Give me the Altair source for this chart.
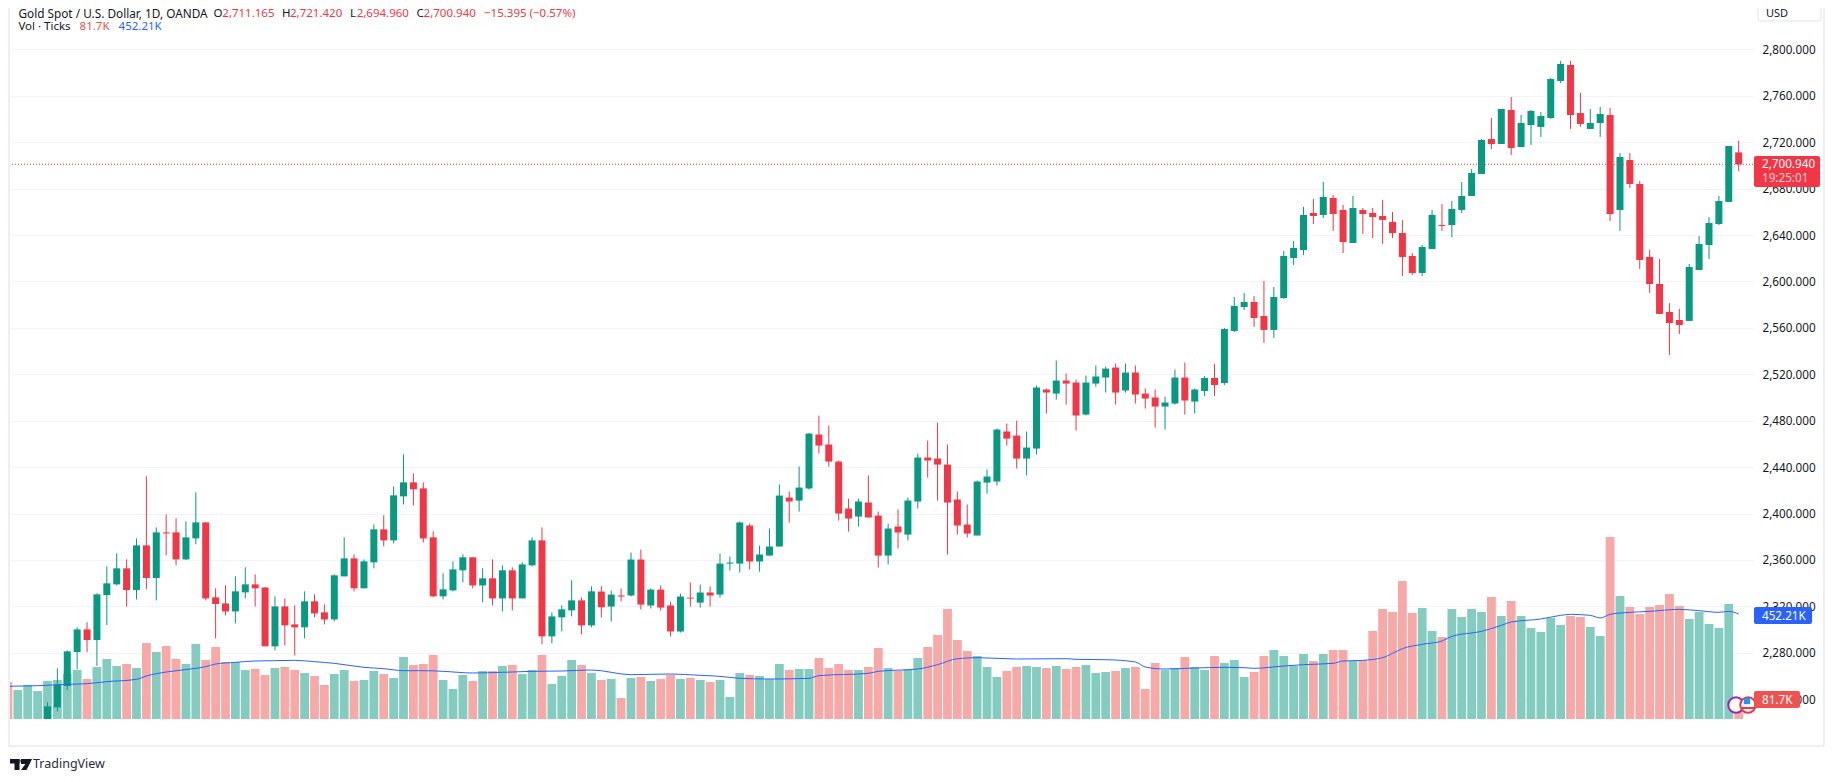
import altair as alt
import pandas as pd

FONT = "Noto Sans"
UP = "#089981"
DOWN = "#F23645"
VOL_UP = "#84CCC0"
VOL_DOWN = "#F7A9A7"
BLUE = "#2962FF"
GRID = "#F0F3FA"
INK = "#131722"

first_index = -1
opens = [2214.0,
2233.0,2251.4,2280.7,2300.2,2291.0,2329.8,2339.0,2352.8,2334.1,2372.6,
2344.5,2383.8,2383.8,2360.5,2378.6,2392.4,2327.8,2322.6,2315.7,2332.1,
2339.0,2336.4,2285.6,2320.0,2304.5,2302.0,2324.4,2314.9,2308.8,2345.9,
2361.4,2335.6,2358.0,2386.4,2376.9,2414.8,2426.9,2421.7,2379.5,2328.7,
2333.8,2351.1,2362.3,2338.1,2344.2,2326.9,2351.1,2326.9,2355.4,2376.9,
2294.2,2310.6,2316.6,2325.2,2303.7,2332.8,2319.9,2329.4,2329.4,2360.4,
2320.8,2334.5,2320.8,2298.4,2327.6,2323.3,2332.0,2330.2,2356.9,2356.9,
2389.7,2358.7,2363.8,2371.6,2413.8,2411.2,2421.6,2468.1,2459.5,2444.8,
2404.3,2397.4,2409.5,2398.3,2363.8,2388.8,2381.9,2410.4,2448.3,2447.4,
2442.2,2412.1,2390.5,2381.1,2426.7,2427.6,2470.7,2467.2,2447.4,2456.0,
2506.9,2503.4,2514.6,2512.9,2485.3,2512.0,2517.2,2525.8,2506.0,2521.5,
2503.4,2500.0,2492.2,2494.8,2517.2,2496.5,2505.6,2516.8,2512.5,2557.3,
2578.0,2582.3,2570.2,2558.2,2585.7,2620.2,2627.1,2659.0,2657.3,2671.9,
2661.6,2633.1,2661.6,2659.0,2656.4,2651.2,2641.7,2621.9,2607.3,2628.0,
2648.6,2648.6,2661.6,2673.6,2692.6,2722.7,2718.4,2747.7,2715.8,2734.8,
2733.1,2740.8,2772.7,2786.5,2745.1,2731.4,2736.5,2743.4,2661.6,2704.6,
2684.0,2621.1,2597.8,2573.7,2566.8,2566.0,2609.9,2631.4,2649.5,2668.5,2711.165]
highs = [2237.3,
2266.6,2282.1,2302.0,2306.3,2331.3,2354.5,2365.7,2360.5,2378.6,2432.1,
2388.1,2399.3,2395.9,2393.3,2418.3,2392.8,2335.6,2338.1,2345.9,2353.7,
2347.6,2336.7,2328.7,2326.9,2320.9,2333.0,2330.4,2321.8,2347.6,2379.5,
2364.9,2360.5,2390.7,2398.5,2423.4,2451.0,2434.6,2426.9,2384.7,2348.5,
2358.8,2364.9,2362.3,2352.8,2360.5,2355.4,2353.7,2358.0,2379.5,2388.1,
2314.9,2320.9,2342.5,2327.8,2337.3,2337.4,2333.7,2335.4,2366.4,2369.0,
2335.4,2338.0,2324.2,2331.1,2340.6,2338.8,2337.1,2365.6,2363.0,2393.1,
2391.4,2372.4,2387.1,2425.0,2419.0,2440.5,2469.5,2484.5,2475.8,2445.7,
2412.9,2412.9,2432.8,2401.7,2391.4,2403.5,2413.8,2451.7,2462.9,2478.4,
2459.5,2419.0,2407.8,2428.5,2437.9,2473.3,2477.6,2480.1,2470.7,2510.3,
2507.7,2531.8,2520.6,2515.5,2518.9,2527.5,2526.7,2529.3,2529.3,2527.5,
2507.7,2506.9,2500.8,2524.1,2530.1,2507.7,2518.5,2528.9,2559.9,2586.6,
2590.1,2587.5,2600.4,2595.2,2626.2,2634.9,2664.2,2671.0,2685.7,2674.5,
2665.9,2673.6,2663.3,2663.3,2670.2,2659.8,2653.0,2624.5,2631.4,2661.6,
2666.7,2669.3,2685.7,2696.9,2722.7,2740.8,2748.6,2758.9,2743.4,2747.7,
2746.0,2775.3,2790.0,2790.0,2762.4,2748.6,2750.3,2749.4,2710.7,2710.7,
2686.6,2627.1,2619.3,2581.4,2576.3,2615.0,2639.2,2655.5,2673.6,2716.7,2721.42]
lows = [2210.0,
2229.6,2248.0,2265.8,2280.7,2268.6,2304.0,2338.1,2320.0,2326.1,2334.7,
2325.2,2364.0,2355.4,2360.0,2373.5,2325.2,2292.5,2312.3,2305.4,2326.9,
2320.0,2285.6,2282.1,2286.4,2277.8,2292.5,2310.6,2304.5,2307.1,2345.9,
2333.0,2335.6,2352.8,2371.7,2374.3,2407.9,2407.1,2375.2,2327.8,2326.1,
2333.0,2340.7,2335.6,2323.5,2320.9,2315.7,2316.6,2326.9,2354.5,2287.3,
2288.2,2298.5,2311.4,2295.9,2302.0,2310.4,2307.0,2324.2,2328.5,2317.3,
2318.2,2316.4,2294.0,2297.5,2319.9,2319.0,2319.9,2327.6,2350.9,2349.2,
2351.8,2350.0,2363.8,2371.6,2392.3,2401.7,2420.7,2451.7,2440.5,2394.0,
2384.5,2388.8,2396.6,2353.5,2356.1,2369.9,2376.8,2404.3,2431.0,2411.2,
2364.7,2381.9,2379.3,2381.1,2417.2,2424.1,2458.6,2438.8,2432.8,2450.9,
2486.2,2498.2,2493.9,2471.5,2484.5,2509.4,2504.3,2493.9,2504.3,2494.8,
2490.5,2474.1,2472.4,2493.9,2485.3,2486.2,2501.3,2501.3,2510.8,2556.4,
2575.4,2560.8,2547.0,2551.3,2584.9,2614.2,2622.8,2649.5,2654.7,2643.5,
2624.5,2633.1,2640.9,2637.4,2632.3,2637.4,2604.7,2605.6,2604.7,2628.0,
2643.5,2638.3,2659.0,2673.6,2692.6,2714.1,2718.4,2709.0,2715.8,2717.6,
2724.5,2740.0,2771.0,2731.4,2733.1,2731.4,2724.5,2652.1,2643.5,2680.5,
2610.7,2590.1,2572.0,2536.6,2554.7,2566.0,2609.9,2619.3,2648.6,2668.5,2694.96]
closes = [2233.9,
2252.3,2281.3,2300.2,2291.0,2330.4,2339.9,2352.8,2334.1,2372.6,2344.5,
2383.8,2382.9,2360.5,2379.5,2392.4,2326.9,2322.1,2315.7,2333.0,2339.0,
2335.6,2285.6,2320.0,2303.7,2302.0,2324.4,2314.0,2308.8,2346.8,2361.4,
2335.6,2358.8,2386.4,2376.9,2415.7,2426.9,2420.9,2378.6,2328.7,2334.7,
2351.9,2362.3,2338.1,2344.2,2326.9,2351.1,2326.9,2356.2,2376.9,2294.2,
2311.4,2317.5,2325.2,2303.7,2333.0,2319.3,2330.2,2328.5,2360.4,2321.6,
2334.5,2319.0,2298.4,2328.5,2326.8,2332.0,2329.4,2356.9,2357.8,2392.3,
2358.7,2364.7,2371.6,2415.5,2410.4,2422.4,2468.9,2458.6,2444.8,2400.0,
2395.7,2410.4,2396.6,2363.8,2387.1,2383.7,2411.2,2448.3,2445.7,2442.2,
2409.5,2389.7,2382.8,2427.6,2431.9,2472.4,2464.6,2447.4,2456.9,2508.6,
2504.3,2514.6,2512.0,2484.5,2512.9,2518.1,2524.9,2504.3,2521.5,2502.6,
2499.1,2492.2,2495.7,2517.2,2497.4,2506.9,2516.8,2510.8,2559.0,2578.9,
2582.3,2568.5,2558.2,2586.6,2621.9,2628.8,2657.3,2656.4,2672.8,2658.1,
2634.0,2663.3,2658.1,2655.5,2653.0,2641.7,2621.1,2607.3,2629.7,2657.3,
2647.8,2662.4,2673.6,2693.4,2721.9,2718.4,2748.6,2715.0,2736.5,2746.9,
2742.5,2774.4,2787.4,2743.4,2735.7,2736.5,2744.3,2658.1,2707.2,2684.0,
2618.5,2597.8,2572.0,2564.2,2562.5,2612.5,2632.3,2650.4,2669.3,2716.7,2700.94]

volumes = [159.3,124.9,146.4,120.6,163.6,
167.9,193.8,211.0,172.2,223.9,258.4,228.2,236.8,219.6,327.3,
288.5,314.4,258.4,236.8,323.0,254.1,310.0,245.5,245.5,211.0,
215.3,189.5,219.6,223.9,211.0,198.1,185.2,146.4,193.8,211.0,
163.6,167.9,206.7,193.8,176.6,267.0,232.5,236.8,275.6,167.9,
129.2,189.5,163.6,206.7,206.7,228.2,232.5,193.8,211.0,275.6,
150.7,185.2,254.1,232.5,198.1,167.9,172.2,90.4,176.6,180.9,
163.6,172.2,189.5,172.2,176.6,167.9,159.3,167.9,94.7,198.1,
189.5,185.2,172.2,236.8,211.0,215.3,215.3,262.7,219.6,236.8,
211.0,211.0,223.9,305.7,219.6,206.7,215.3,262.7,310.0,361.7,
473.7,340.2,292.8,271.3,223.9,180.9,206.7,223.9,228.2,223.9,
219.6,228.2,215.3,223.9,232.5,198.1,202.4,206.7,219.6,223.9,
129.2,241.1,211.0,219.6,267.0,223.9,211.0,271.3,241.1,254.1,
180.9,202.4,271.3,297.1,271.3,228.2,279.9,249.8,279.9,297.1,
297.1,249.8,254.1,378.9,473.7,460.8,594.3,456.5,478.0,378.9,
353.1,473.7,439.2,473.7,460.8,525.4,443.5,508.1,443.5,391.9,
374.6,434.9,404.8,443.5,439.2,396.2,357.4,783.7,529.7,482.3,
452.2,482.3,490.9,538.3,486.6,430.6,460.8,409.1,391.9,495.2,81.7]
early_volume_up = [False, True, True, True]

ma_index = [-5,-2,1,3,5,8,9,11,14,15,16,18,20,22,24,26,28,31,33,35,37,39,42,45,48,51,54,
58,62,65,67,69,72,76,77,82,83,87,89,91,93,97,102,103,106,109,110,112,115,
118,120,121,124,126,129,130,132,134,135,136,138,140,141,144,146,147,150,152,153,155,156,157,159,161,164,166,168,169,170]
ma_values = [140.7,143.5,149.3,152.2,160.8,170.8,185.2,202.4,218.2,225.4,236.8,244.0,249.8,251.2,252.6,246.9,239.7,222.5,216.7,208.1,208.1,205.3,198.1,201.0,205.3,206.7,211.0,
190.9,193.8,188.0,183.7,175.1,172.2,175.1,186.6,196.7,205.3,215.3,234.0,259.8,264.1,258.4,259.8,256.9,255.5,245.5,223.9,215.3,219.6,
222.5,221.1,218.2,228.2,234.0,239.7,249.8,252.6,264.1,282.8,302.9,321.5,335.9,356.0,377.5,403.3,417.7,430.6,446.4,450.7,446.4,434.9,450.7,459.3,463.6,472.2,466.5,459.3,463.6,452.21]

tick_index = [0,10,22,35,45,55,65,75,88,100,110,120,131,140,154,165]
tick_labels = ["Apr","15","May","20","Jun","17","Jul","15","Aug","19","Sep","16","Oct","14","Nov","18"]
price_ticks = list(range(2240, 2801, 40))

candles = pd.DataFrame({
    "i": list(range(first_index, first_index + len(opens))),
    "open": opens, "high": highs, "low": lows, "close": closes,
})
candles["dir"] = ["up" if c >= o else "down" for o, c in zip(opens, closes)]
volume_dirs = ["up" if u else "down" for u in early_volume_up] + list(candles["dir"])
vol = pd.DataFrame({"i": list(range(-5, -5 + len(volumes))), "v": volumes, "dir": volume_dirs})
ma = pd.DataFrame({"i": ma_index, "v": ma_values})

X_DOMAIN = [-4.79, 171.45]
Y_DOMAIN = [2223.0, 2835.6]
V_DOMAIN = [0, 3062]

xs = alt.Scale(domain=X_DOMAIN, nice=False, zero=False, padding=0)
ys = alt.Scale(domain=Y_DOMAIN, nice=False, zero=False, padding=0)
vs = alt.Scale(domain=V_DOMAIN, nice=False, zero=False, padding=0)
dir_colors = alt.Scale(domain=["up", "down"], range=[UP, DOWN])
vol_colors = alt.Scale(domain=["up", "down"], range=[VOL_UP, VOL_DOWN])

x_axis = alt.Axis(
    values=tick_index,
    labelExpr="{" + ",".join(f"'{k}':'{v}'" for k, v in zip(tick_index, tick_labels)) + "}[datum.value]",
    title=None, domain=False, ticks=False, grid=True, gridColor=GRID, gridWidth=1,
    labelFont=FONT, labelFontSize=12, labelColor=INK, labelPadding=7, labelOverlap=False, labelFlush=False,
)
y_axis = alt.Axis(
    orient="right", values=price_ticks, format=",.3f", title=None, domain=False, ticks=False,
    grid=True, gridColor=GRID, gridWidth=1, labelFont=FONT, labelFontSize=11.7, labelColor=INK,
    labelPadding=9, labelOverlap=False, labelFlush=False,
)

base_axes = alt.Chart(candles).mark_point(opacity=0).encode(
    x=alt.X("i:Q", scale=xs, axis=x_axis),
    y=alt.Y("close:Q", scale=ys, axis=y_axis),
)
volume_bars = alt.Chart(vol).mark_bar(size=8.8, clip=True).encode(
    x=alt.X("i:Q", scale=xs, axis=None),
    y=alt.Y("v:Q", scale=vs, axis=None),
    y2=alt.datum(0),
    color=alt.Color("dir:N", scale=vol_colors, legend=None),
)
wicks = alt.Chart(candles).mark_rule(strokeWidth=1, clip=True).encode(
    x=alt.X("i:Q", scale=xs, axis=None),
    y=alt.Y("low:Q", scale=ys, axis=None),
    y2="high:Q",
    color=alt.Color("dir:N", scale=dir_colors, legend=None),
)
bodies = alt.Chart(candles).mark_bar(size=7, clip=True).encode(
    x=alt.X("i:Q", scale=xs, axis=None),
    y=alt.Y("open:Q", scale=ys, axis=None),
    y2="close:Q",
    color=alt.Color("dir:N", scale=dir_colors, legend=None),
)
ma_line = alt.Chart(ma).mark_line(color=BLUE, strokeWidth=1, clip=True, interpolate="monotone").encode(
    x=alt.X("i:Q", scale=xs, axis=None),
    y=alt.Y("v:Q", scale=vs, axis=None),
)
last_line = alt.Chart(pd.DataFrame({"p": [closes[-1]]})).mark_rule(
    color=DOWN, strokeWidth=1, strokeDash=[1, 2]
).encode(y=alt.Y("p:Q", scale=ys, axis=None))

one = pd.DataFrame({"a": [0]})

def box(x0, x1, y0, y1, fill, stroke=None, radius=2):
    kw = {"stroke": stroke} if stroke else {}
    return alt.Chart(one).mark_rect(fill=fill, cornerRadius=radius, **kw).encode(
        x=alt.value(x0 - 10), x2=alt.value(x1 - 10), y=alt.value(y0 - 8), y2=alt.value(y1 - 8))

def label(text, x, y, color=INK, size=11.5, weight="normal", align="left", font=FONT, opacity=1):
    return alt.Chart(pd.DataFrame({"t": [text]})).mark_text(
        align=align, baseline="middle", color=color, fontSize=size, fontWeight=weight, font=font, opacity=opacity
    ).encode(text="t:N", x=alt.value(x - 10), y=alt.value(y - 8))

def glyph(x, y, size, fill, stroke=None, shape="circle", sw=2):
    kw = {"stroke": stroke, "strokeWidth": sw} if stroke else {"strokeWidth": 0}
    return alt.Chart(one).mark_point(shape=shape, filled=True, fill=fill, opacity=1, size=size, **kw).encode(
        x=alt.value(x - 10), y=alt.value(y - 8))

def edge(**channels):
    return alt.Chart(one).mark_rule(color="#E8EAF0", strokeWidth=1.5).encode(**channels)

rules = [
    edge(x=alt.value(-1), y=alt.value(-8), y2=alt.value(738)),
    edge(x=alt.value(-1), x2=alt.value(1814), y=alt.value(738)),
    edge(x=alt.value(1814), y=alt.value(-8), y2=alt.value(738)),
]

overlays = rules + [
    box(1758, 1821, -5, 21, "#FFFFFF", "#E0E3EB", 3),
    label("USD", 1766, 14, size=11),
    box(1754, 1820, 156, 187, DOWN),
    label("2,700.940", 1762, 163.5, "#FFFFFF", 11.7),
    label("19:25:01", 1762, 177.5, "#FFFFFF", 11.7, opacity=0.75),
    box(1754, 1812, 607, 624, BLUE),
    label("452.21K", 1762, 615.5, "#FFFFFF", 11.7),
    glyph(1736, 705, 240, "#FFFFFF", "#9C27B0"),
    glyph(1748, 705, 240, "#FFFFFF", "#F23645"),
    glyph(1747, 701, 40, "#2196F3", shape="square"),
    alt.Chart(one).mark_rule(color="#F23645", strokeWidth=2).encode(
        x=alt.value(1742 - 10), x2=alt.value(1755 - 10), y=alt.value(708 - 8)),
    box(1754, 1800, 691, 708, "#EF5350"),
    label("81.7K", 1762, 699.5, "#FFFFFF", 11.7),
    label("Gold Spot / U.S. Dollar, 1D, OANDA", 18.4, 14, size=11.8),
    label("O", 213.5, 14),
    label("2,711.165", 222.3, 14, DOWN),
    label("H", 282, 14),
    label("2,721.420", 290, 14, DOWN),
    label("L", 350, 14),
    label("2,694.960", 356.7, 14, DOWN),
    label("C", 416.4, 14),
    label("2,700.940", 423.6, 14, DOWN),
    label("\u221215.395 (\u22120.57%)", 484, 14, DOWN),
    label("Vol \u00b7 Ticks", 18.4, 26.5),
    label("81.7K", 79.6, 26.5, "#EF5350"),
    label("452.21K", 118.6, 26.5, BLUE),
    box(10, 19.5, 759, 763.5, "#131722", radius=0),
    box(14.5, 19.5, 759, 770, "#131722", radius=0),
    glyph(22, 761, 12, "#131722"),
    glyph(26.5, 764.5, 121, "#131722", shape="M-1,-1L1,-1L0,1L-1,1L-0.2,-0.1L-1,-0.1Z"),
    label("TradingView", 33, 764, "#2A2E39", 12.5),
]

chart = alt.layer(
    base_axes, volume_bars, wicks, bodies, ma_line, last_line, *overlays
).resolve_scale(y="independent", color="independent").properties(
    width=1743, height=711,
    padding={"left": 2, "top": 0, "right": 74, "bottom": 54},
    autosize=alt.AutoSizeParams(type="none"),
    background="#FFFFFF",
).configure_view(stroke=None)

chart.save("out.html", embed_options={"renderer": "svg", "actions": False})
